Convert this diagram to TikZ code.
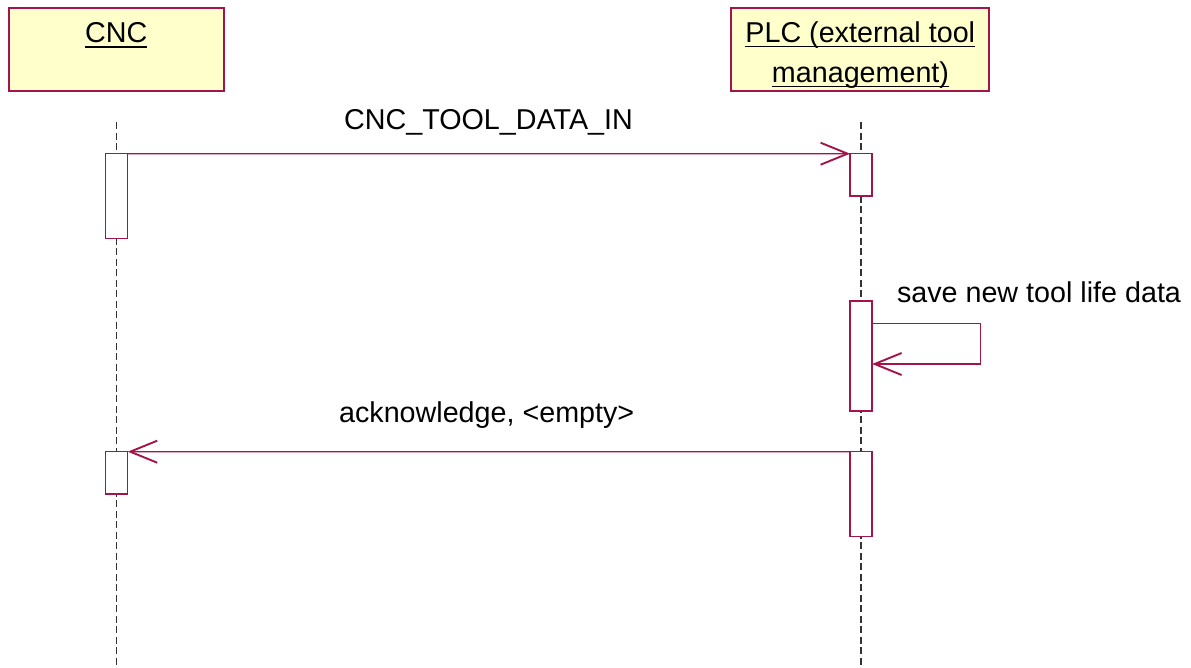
\documentclass[tikz,border=0pt]{standalone}
\usepackage{fontspec}
\setmainfont{Liberation Sans}
\usetikzlibrary{arrows.meta,calc}
\definecolor{umlred}{RGB}{163,20,75}
\definecolor{umlfill}{RGB}{255,255,204}
\begin{document}
\begin{tikzpicture}[x=1pt,y=-1pt,
  every node/.style={font=\fontsize{28.7}{40}\selectfont, inner sep=0pt, outer sep=0pt},
  objbox/.style={draw=umlred, fill=umlfill, line width=1.2pt, minimum width=215pt, minimum height=83pt},
  plcbox/.style={draw=umlred, fill=umlfill, line width=1.2pt, minimum width=258pt, minimum height=83pt},
  act/.style={draw=umlred, fill=white, line width=1.3pt, minimum width=22pt},
  life/.style={draw=black!80, line width=1.3pt, dash pattern=on 7pt off 3.5pt},
  msg/.style={draw=umlred, line width=1.2pt, -{Straight Barb[length=27pt,width=22pt,line width=1.9pt]}},
  uline/.style={line width=1.5pt},
  lbl/.style={anchor=base}
]
\useasboundingbox (0,0) rectangle (1191,667);
% objects
\node[objbox] (cnc) at (116.5,49.5) {};
\node[plcbox] (plc) at (860,49.5) {};
\node[lbl] (cnct) at (116.3,42.3) {CNC};
\node[lbl] (plct1) at (860.3,42) {PLC (external tool\hspace{0.278em}};
\node[lbl] (plct2) at (860.5,82) {management)};
\draw[uline] ([yshift=-4.6pt]cnct.base west) -- ([yshift=-4.6pt]cnct.base east);
\draw[uline] ([yshift=-4.6pt]plct1.base west) -- ([yshift=-4.6pt]plct1.base east);
\draw[uline] ([yshift=-4.6pt]plct2.base west) -- ([yshift=-4.6pt]plct2.base east);
% lifelines
\coordinate (cTop) at (116.7,122);
\coordinate (cBot) at (116.7,667);
\coordinate (pTop) at (861.1,122);
\coordinate (pBot) at (861.1,667);
\draw[life] (cTop) -- (cBot);
\draw[life] (pTop) -- (pBot);
% activations
\node[act, minimum height=85pt] (cA1) at (116.7,196.2) {};
\node[act, minimum height=42.3pt] (pA1) at (861.1,174.85) {};
\node[act, minimum height=110pt] (pA2) at (861.1,356) {};
\node[act, minimum height=42.3pt] (cA2) at (116.7,472.85) {};
\node[act, minimum height=85pt] (pA3) at (861.1,494.2) {};
% messages
\draw[msg] (cA1.north east) -- (pA1.north west);
\node[lbl] (m1) at (488.5,129.3) {CNC\_TOOL\_DATA\_IN};
\draw[msg] ($(pA2.north east)+(0,22.7)$) -- ++(108,0) -- ++(0,40.3) -- ($(pA2.north east)+(0,63)$);
\node[lbl, anchor=base west] (m2) at (897,302.7) {save new tool life data};
\draw[msg] (pA3.north west) -- (cA2.north east);
\node[lbl] (m3) at (486.7,422.7) {acknowledge, <empty>};
\end{tikzpicture}
\end{document}
